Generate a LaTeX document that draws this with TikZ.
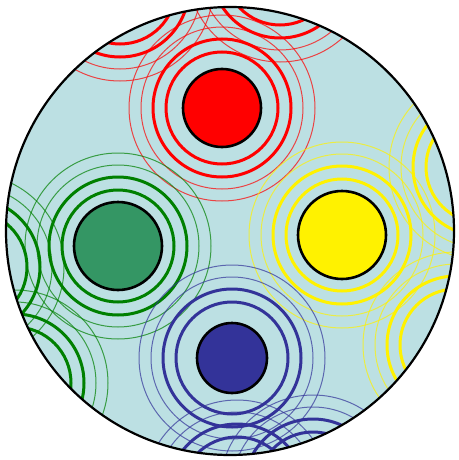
\documentclass[tikz,border=0pt]{standalone}
\usepackage{tikz}
\usetikzlibrary{calc}
\definecolor{bgblue}{RGB}{188,224,227}
\definecolor{greendisc}{RGB}{52,150,100}
\definecolor{greenring}{RGB}{0,128,0}
\definecolor{bluedisc}{RGB}{51,51,153}
\tikzset{
  board/.style={circle, fill=bgblue, minimum size=448pt, inner sep=0pt},
  spot/.style={circle, draw=black, line width=2.6pt, inner sep=0pt},
  thickring/.style={line width=3pt},
  thinring/.style={line width=1pt, draw opacity=0.7}
}
\newcommand\ringset[2]{%
  \draw[thickring,#2] (#1) circle (56) circle (69);
  \draw[thinring,#2]  (#1) circle (81) circle (93);
}

\begin{document}
\begin{tikzpicture}[x=1pt, y=-1pt]
\useasboundingbox (0,0) rectangle (458,460);

% board
\node[board] (board) at (230,231) {};

% sources and their mirror points
\coordinate (r0) at (222,108);
\coordinate (r1) at (280,-31);
\coordinate (r2) at (120,-12);
\coordinate (y0) at (342,235);
\coordinate (y1) at (482,167);
\coordinate (y2) at (456,345);
\coordinate (g0) at (118,246);
\coordinate (g1) at (-29,267);
\coordinate (g2) at (15,383);
\coordinate (b0) at (232,358);
\coordinate (b1) at (237,493);
\coordinate (b2) at (313,488);

% rings
\begin{scope}
  \clip (board.center) circle (224);
  \foreach \p in {r0,r1,r2} {\ringset{\p}{red}}
  \foreach \p in {y0,y1,y2} {\ringset{\p}{yellow}}
  \foreach \p in {g0,g1,g2} {\ringset{\p}{greenring}}
  \foreach \p in {b0,b1,b2} {\ringset{\p}{bluedisc}}
\end{scope}

% discs
\node[spot, fill=red,       minimum size=78pt] (red)    at (r0) {};
\node[spot, fill=yellow,    minimum size=88pt] (yellow) at (y0) {};
\node[spot, fill=greendisc, minimum size=88pt] (green)  at (g0) {};
\node[spot, fill=bluedisc,  minimum size=70pt] (blue)   at (b0) {};

% rim
\draw[line width=2.2pt] (board.center) circle (224);

\end{tikzpicture}
\end{document}
